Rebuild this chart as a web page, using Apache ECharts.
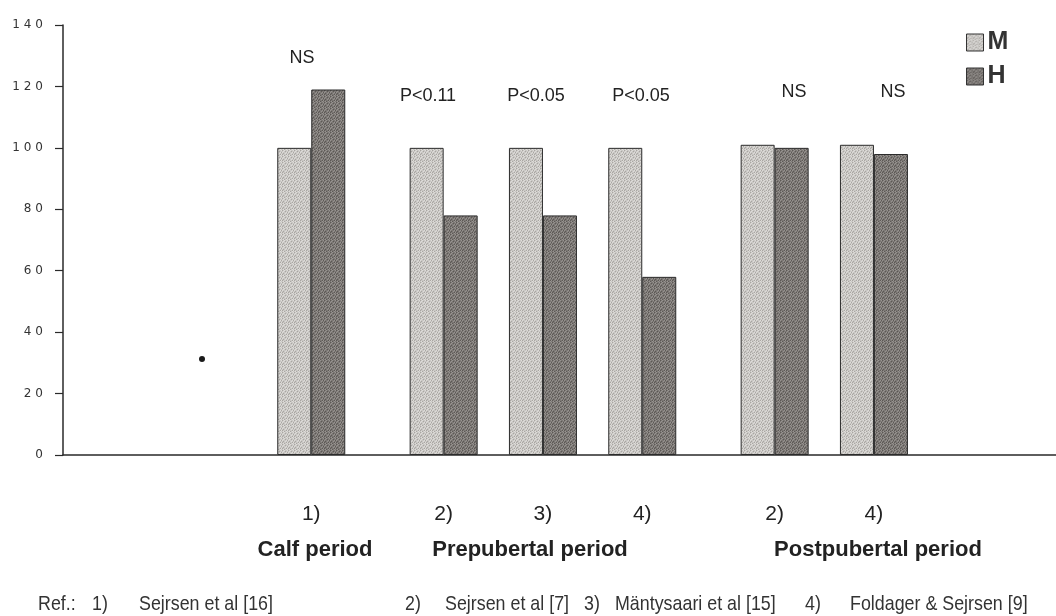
<!DOCTYPE html>
<html>
<head>
<meta charset="utf-8">
<title>Relative values, M vs H</title>
<script src="https://cdn.jsdelivr.net/npm/echarts@6/dist/echarts.min.js"></script>
<style>
  html, body { margin: 0; padding: 0; background: #ffffff; }
  #chart { width: 1056px; height: 616px; }
</style>
</head>
<body>
<div id="chart"></div>
<script>
// Study labels under each pair of bars
const studyLabels = ['1)', '2)', '3)', '4)', '2)', '4)'];
// Relative values, M taken as reference (about 100)
const mValues = [100, 100, 100, 100, 101, 101];
const hValues = [119, 78, 78, 58, 100, 98];
// Significance of the M/H difference for each study
const significance = ['NS', 'P<0.11', 'P<0.05', 'P<0.05', 'NS', 'NS'];
// Period captions
const periods = ['Calf period', 'Prepubertal period', 'Postpubertal period'];
// Reference list printed below the chart
const references = [
  'Ref.:', '1)', 'Sejrsen et al [16]', '2)', 'Sejrsen et al [7]',
  '3)', 'Mäntysaari et al [15]', '4)', 'Foldager & Sejrsen [9]'
];
const yTickValues = [0, 20, 40, 60, 80, 100, 120, 140];

// Layout: the x axis is cut into equal slots; each study sits on one slot
const SLOT_COUNT = 30;
const studySlots = [7, 11, 14, 17, 21, 24];

const slotNames = [];
for (let i = 0; i < SLOT_COUNT; i++) slotNames.push('s' + i);
const slotLabel = {};
const mSeries = new Array(SLOT_COUNT).fill(null);
const hSeries = new Array(SLOT_COUNT).fill(null);
studySlots.forEach((slot, i) => {
  slotLabel[slotNames[slot]] = studyLabels[i];
  mSeries[slot] = mValues[i];
  hSeries[slot] = hValues[i];
});

// Grainy stipple fill, like a printed halftone
function stipple(base, dark, light) {
  const c = document.createElement('canvas');
  c.width = 6; c.height = 6;
  const g = c.getContext('2d');
  g.fillStyle = base; g.fillRect(0, 0, 6, 6);
  g.fillStyle = dark;
  [[0,0],[3,1],[5,2],[1,3],[4,4],[2,5],[0,4]].forEach(p => g.fillRect(p[0], p[1], 1, 1));
  g.fillStyle = light;
  [[2,0],[5,0],[1,1],[4,2],[0,2],[3,3],[5,4],[1,5],[4,5]].forEach(p => g.fillRect(p[0], p[1], 1, 1));
  return c;
}
const mFill = { image: stipple('#c9c7c4', '#a9a6a2', '#dedcd9'), repeat: 'repeat' };
const hFill = { image: stipple('#7b7774', '#5c5855', '#979390'), repeat: 'repeat' };

const chart = echarts.init(document.getElementById('chart'), null, { renderer: 'canvas' });

const option = {
  backgroundColor: '#ffffff',
  animation: false,
  grid: { left: 63, top: 25, width: 995, height: 430, containLabel: false },
  legend: {
    orient: 'vertical',
    left: 961,
    top: 25,
    itemWidth: 17,
    itemHeight: 17,
    itemGap: 9,
    icon: 'rect',
    data: ['M', 'H'],
    itemStyle: { borderColor: '#333333', borderWidth: 1 },
    textStyle: { fontFamily: 'Liberation Sans, Arial, sans-serif', fontWeight: 'bold', fontSize: 25, color: '#333333', padding: [0, 0, 0, -1] }
  },
  xAxis: {
    type: 'category',
    data: slotNames,
    axisLine: { lineStyle: { color: '#2a2a2a', width: 1.5 } },
    axisTick: { show: false },
    axisLabel: {
      interval: 0,
      margin: 49,
      fontFamily: 'Liberation Sans, Arial, sans-serif',
      fontSize: 21,
      color: '#222222',
      formatter: name => slotLabel[name] || ''
    }
  },
  yAxis: {
    type: 'value',
    min: 0,
    max: 140,
    interval: 20,
    splitLine: { show: false },
    axisLine: { show: true, lineStyle: { color: '#2a2a2a', width: 1.5 } },
    axisTick: { show: true, length: 8, lineStyle: { color: '#2a2a2a', width: 1.2 } },
    axisLabel: {
      margin: 20,
      fontFamily: 'DejaVu Sans, sans-serif',
      fontSize: 12,
      color: '#333333',
      formatter: v => yTickValues.includes(v) ? String(v).split('').join('\u2004') : ''
    }
  },
  series: [
    {
      name: 'M',
      type: 'bar',
      data: mSeries,
      barWidth: 34,
      barGap: '0%',
      itemStyle: { color: mFill, borderColor: '#2b2b2b', borderWidth: 1 }
    },
    {
      name: 'H',
      type: 'bar',
      data: hSeries,
      barWidth: 34,
      barGap: '0%',
      itemStyle: { color: hFill, borderColor: '#2b2b2b', borderWidth: 1 }
    }
  ]
};
chart.setOption(option);

// Text placed on top of the plot: significance notes, period captions, references
const textFont = 'Liberation Sans, Arial, sans-serif';
const sigPos = [[302, 58], [428, 96], [536, 96], [641, 96], [794, 92], [893, 92]];
const periodPos = [315, 530, 878];
const refPos = [38, 92, 139, 405, 445, 584, 615, 805, 850];

const graphics = [];
significance.forEach((s, i) => {
  graphics.push({
    type: 'text', x: sigPos[i][0], y: sigPos[i][1],
    style: { text: s, fill: '#222222', font: '18px ' + textFont, align: 'center', verticalAlign: 'middle' }
  });
});
periods.forEach((p, i) => {
  graphics.push({
    type: 'text', x: periodPos[i], y: 550,
    style: { text: p, fill: '#222222', font: 'bold 22px ' + textFont, align: 'center', verticalAlign: 'middle' }
  });
});
references.forEach((r, i) => {
  graphics.push({
    type: 'text', x: refPos[i], y: 604, scaleX: 0.85,
    style: { text: r, fill: '#333333', font: '21px ' + textFont, align: 'left', verticalAlign: 'middle' }
  });
});
// small ink dot in the empty left part of the plot
graphics.push({ type: 'circle', shape: { cx: 202, cy: 359, r: 3 }, style: { fill: '#1a1a1a' } });

chart.setOption({ graphic: graphics });
</script>
</body>
</html>
